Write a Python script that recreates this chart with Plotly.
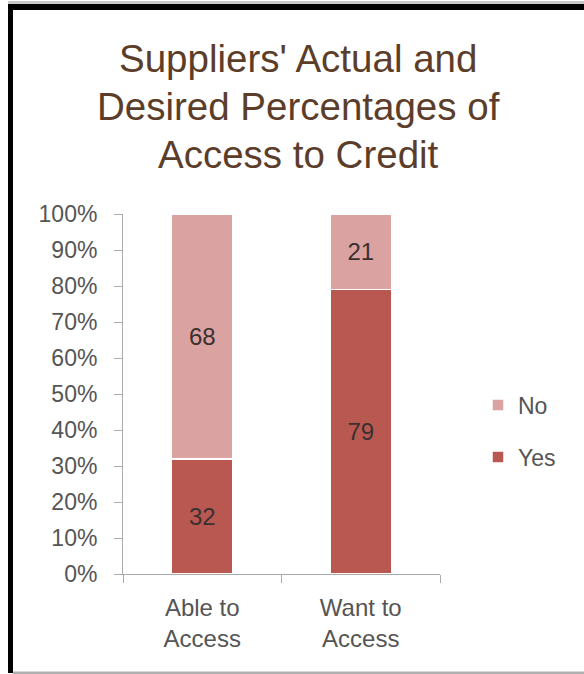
import plotly.graph_objects as go

categories = ["Able to<br>Access", "Want to<br>Access"]
yes_values = [32, 79]
no_values = [68, 21]
title_lines = ["Suppliers' Actual and", "Desired Percentages of", "Access to Credit"]

W, H = 584, 674
L, R, T, B = 123, 144, 214, 100
pw, ph = W - L - R, H - T - B

def px(x):
    return (x - L) / pw

def py(y):
    return (H - B - y) / ph

YES_C = "rgb(185,88,80)"
NO_C = "rgb(218,163,161)"
FONT = "Liberation Sans, Arial, sans-serif"

fig = go.Figure()
fig.add_trace(go.Bar(
    x=categories, y=yes_values, name="Yes", legend="legend2",
    marker=dict(color=YES_C, line=dict(color="white", width=1.5)),
    text=[str(v) for v in yes_values], textposition="inside",
    insidetextanchor="middle", textfont=dict(color="#3a3030", size=24, family=FONT),
    width=0.39,
))
fig.add_trace(go.Bar(
    x=categories, y=no_values, name="No", legend="legend",
    marker=dict(color=NO_C, line=dict(color="white", width=1.5)),
    text=[str(v) for v in no_values], textposition="inside",
    insidetextanchor="middle", textfont=dict(color="#3a3030", size=24, family=FONT),
    width=0.39,
))

shapes = [
    dict(type="rect", xref="paper", yref="paper", x0=px(8), x1=px(13), y0=py(673), y1=py(4),
         fillcolor="black", line=dict(width=0), layer="above"),
    dict(type="rect", xref="paper", yref="paper", x0=px(8), x1=px(590), y0=py(10), y1=py(4),
         fillcolor="black", line=dict(width=0), layer="above"),
    dict(type="rect", xref="paper", yref="paper", x0=px(8), x1=px(590), y0=py(4), y1=py(1),
         fillcolor="#c8c8c8", line=dict(width=0), layer="above"),
    dict(type="rect", xref="paper", yref="paper", x0=px(13), x1=px(590), y0=py(674), y1=py(671.5),
         fillcolor="#b0b0b0", line=dict(width=0), layer="above"),
]

title_y = [58, 106.5, 155]
annotations = [
    dict(text=t, xref="paper", yref="paper", x=px(298), y=py(yy), xanchor="center",
         yanchor="middle", showarrow=False,
         font=dict(family=FONT, size=38.5, color="#5c3d2a"))
    for t, yy in zip(title_lines, title_y)
]

legend_common = dict(xanchor="left", yanchor="middle", bgcolor="rgba(0,0,0,0)",
                     font=dict(size=23, color="#555555", family=FONT), itemwidth=30)

fig.update_layout(
    width=W, height=H,
    margin=dict(l=L, r=R, t=T, b=B, autoexpand=False),
    paper_bgcolor="white", plot_bgcolor="white",
    barmode="stack",
    font=dict(family=FONT, color="#555555", size=22),
    showlegend=True,
    legend=dict(x=px(478), y=py(405), **legend_common),
    legend2=dict(x=px(478), y=py(457), **legend_common),
    xaxis=dict(range=[-0.5, 1.5], showline=True, linecolor="#aaaaaa", linewidth=1,
               ticks="outside", tickson="boundaries", ticklen=8, tickcolor="#aaaaaa",
               tickfont=dict(size=24, color="#555555"), showgrid=False, zeroline=False,
               ticklabelstandoff=12),
    yaxis=dict(range=[0, 100], dtick=10, ticksuffix="%", showline=True, linecolor="#aaaaaa",
               linewidth=1, ticks="outside", ticklen=8, tickcolor="#aaaaaa",
               tickfont=dict(size=23, color="#555555"), showgrid=False, zeroline=False,
               ticklabelstandoff=12),
    shapes=shapes,
    annotations=annotations,
)

fig.write_html("out.html", config={"displayModeBar": False},
               post_script="document.body.style.margin='0';")
